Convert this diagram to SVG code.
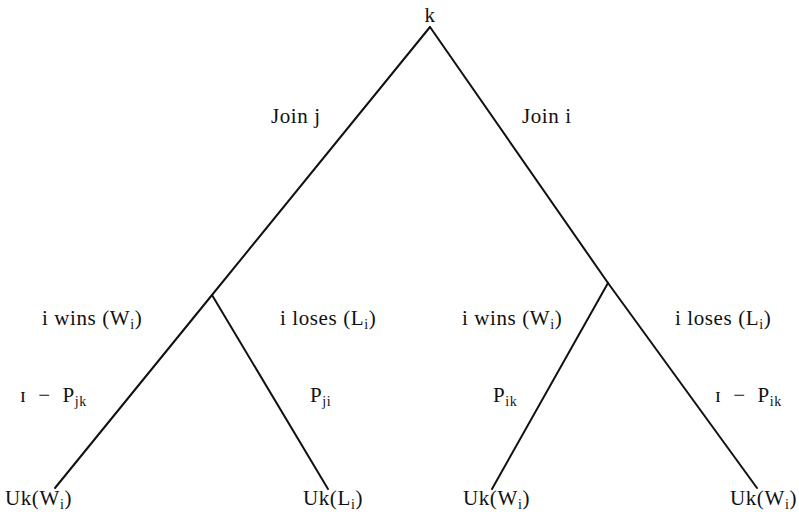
<svg xmlns="http://www.w3.org/2000/svg" width="799" height="512" viewBox="0 0 799 512">
<style>
  text { font-family: "Liberation Serif", "DejaVu Serif", serif; font-size: 21px; fill: #111; letter-spacing: 0.6px; }
  .sub { font-size: 14px; }
  .wide { word-spacing: 6px; }
  .edge { stroke: #111; stroke-width: 2; fill: none; stroke-linecap: round; }
</style>
<rect width="799" height="512" fill="#fff"/>
<g id="connectors">
  <line class="edge" x1="430" y1="27" x2="212" y2="295"/>
  <line class="edge" x1="212" y1="295" x2="55" y2="488"/>
  <line class="edge" x1="212" y1="295" x2="328" y2="489"/>
  <line class="edge" x1="430" y1="27" x2="608" y2="283"/>
  <line class="edge" x1="608" y1="283" x2="757" y2="488"/>
  <line class="edge" x1="608" y1="283" x2="492" y2="489"/>
</g>
<g id="root"><text x="430" y="22" text-anchor="middle">k</text></g>
<g id="edge-labels">
  <text x="271" y="123">Join j</text>
  <text x="522" y="123">Join i</text>
  <text x="42" y="325">i wins (W<tspan class="sub" dy="4">i</tspan><tspan dy="-4">)</tspan></text>
  <text x="280" y="325">i loses (L<tspan class="sub" dy="4">i</tspan><tspan dy="-4">)</tspan></text>
  <text x="462" y="325">i wins (W<tspan class="sub" dy="4">i</tspan><tspan dy="-4">)</tspan></text>
  <text x="675" y="325">i loses (L<tspan class="sub" dy="4">i</tspan><tspan dy="-4">)</tspan></text>
  <text class="wide" x="20" y="402">ɪ − P<tspan class="sub" dy="4">jk</tspan></text>
  <text x="310" y="402">P<tspan class="sub" dy="4">ji</tspan></text>
  <text x="493" y="402">P<tspan class="sub" dy="4">ik</tspan></text>
  <text class="wide" x="715" y="402">ɪ − P<tspan class="sub" dy="4">ik</tspan></text>
</g>
<g id="leaf1"><text x="5" y="505">Uk(W<tspan class="sub" dy="4">i</tspan><tspan dy="-4">)</tspan></text></g>
<g id="leaf2"><text x="303" y="505">Uk(L<tspan class="sub" dy="4">i</tspan><tspan dy="-4">)</tspan></text></g>
<g id="leaf3"><text x="463" y="505">Uk(W<tspan class="sub" dy="4">i</tspan><tspan dy="-4">)</tspan></text></g>
<g id="leaf4"><text x="730" y="505">Uk(W<tspan class="sub" dy="4">i</tspan><tspan dy="-4">)</tspan></text></g>
</svg>
